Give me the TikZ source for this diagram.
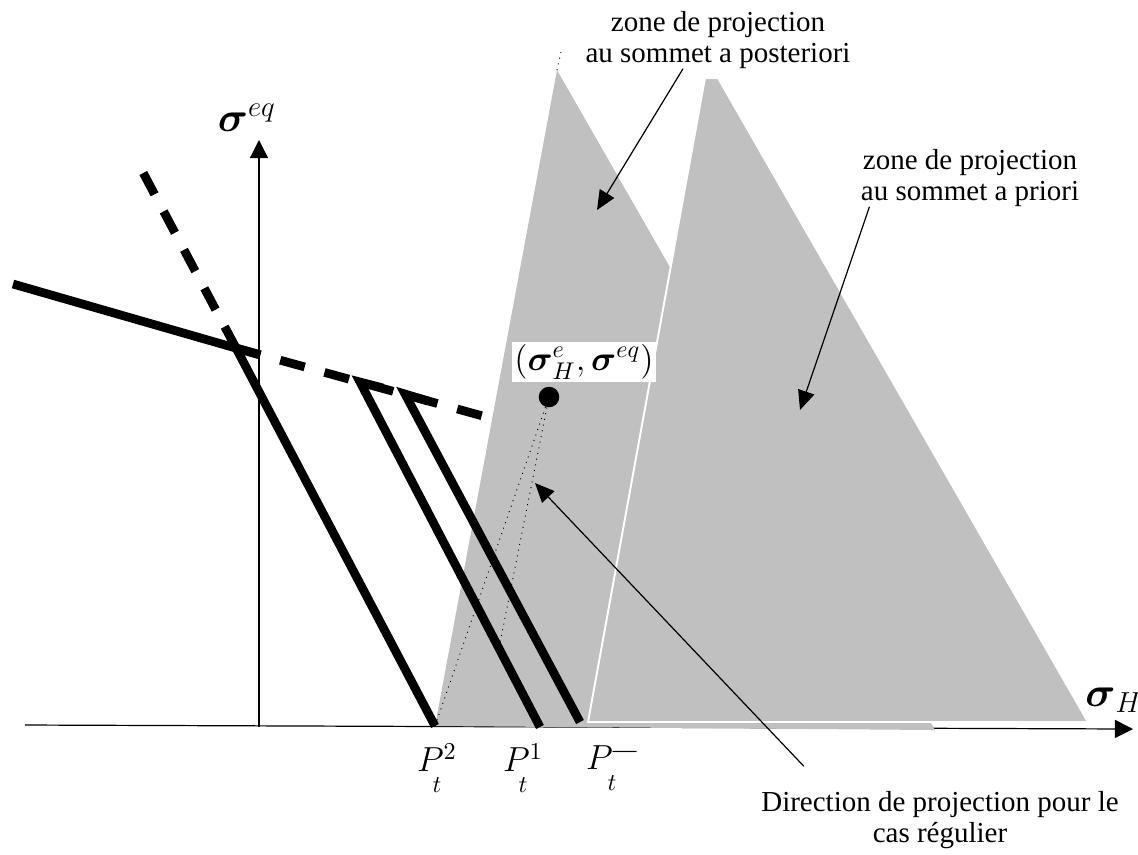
\documentclass[tikz,border=0pt]{standalone}
\usepackage{amsmath}
\usepackage{fontspec}
\setmainfont{Liberation Serif}
\usetikzlibrary{arrows.meta}
\definecolor{zoneGray}{HTML}{C0C0C0}

\begin{document}
\begin{tikzpicture}[x=0.414pt,y=-0.414pt,
    thickline/.style={line width=3.6pt},
    zonetext/.style={align=center,inner sep=0pt,font=\fontsize{12}{12.5}\selectfont},
    pointer/.style={line width=0.5pt,-{Triangle[length=8pt,width=7pt]}},
    axis/.style={line width=0.5pt,-{Triangle[length=7.5pt,width=7.5pt]}},
    plabel/.style={inner sep=0pt,font=\fontsize{14}{15}\selectfont}]
    \useasboundingbox (0,0) rectangle (1138,854);

    % Axes
    \coordinate (xstart) at (25,725);
    \coordinate (xend) at (1133,729);
    \coordinate (ystart) at (259,727);
    \coordinate (yend) at (259,140);
    \draw[axis] (xstart) -- (xend);
    \draw[axis] (ystart) -- (yend);
    \node (sigEq) at (247,118) {\LARGE$\boldsymbol{\sigma}^{eq}$};
    \node[inner sep=1pt] (sigH) at (1114,700) {\LARGE$\boldsymbol{\sigma}_{H}$};

    % Zones
    \fill[zoneGray] (557,70) -- (435,726) -- (935,730) -- cycle;
    \filldraw[fill=zoneGray, draw=white, line width=0.8pt] (705,78) -- (718,78) -- (1088,722) -- (588,722) -- cycle;
    \draw[dotted] (557,70) -- (561,52);

    % Surfaces
    \coordinate (A) at (13,284);
    \coordinate (B) at (260,355);
    \coordinate (K) at (236,348);
    \coordinate (Ktop) at (138,163);
    \coordinate (Kend) at (490,418);
    \coordinate (P2) at (435,726);
    \coordinate (C1) at (360,382);
    \coordinate (C1b) at (383,388);
    \coordinate (P1) at (540,727);
    \coordinate (C2) at (405,394);
    \coordinate (C2b) at (428,401);
    \coordinate (PM) at (580,722);
    \coordinate (F1) at (499,648);
    \draw[thickline] (A) -- (B);
    \draw[thickline] (K) -- (P2);
    \draw[thickline, dash pattern=on 10pt off 8pt] (K) -- (Ktop);
    \draw[thickline, dash pattern=on 10.5pt off 8.5pt] (K) -- (Kend);
    \draw[thickline] (C1b) -- (C1) -- (P1);
    \draw[thickline] (C2b) -- (C2) -- (PM);

    % Point and projections
    \node[circle, fill=black, inner sep=0pt, minimum size=8.5pt] (pt) at (549,397) {};
    \draw[dotted] (pt) -- (P2);
    \draw[dotted] (pt) -- (F1);
    \node[fill=white, inner sep=1pt] (ptLabel) at (584,362) {\Large$\left(\boldsymbol{\sigma}^{e}_{H},\boldsymbol{\sigma}^{eq}\right)$};

    % P labels
    \node[plabel] (Pt2) at (437,770) {$\mathop{P^{2}}\limits_{t}$};
    \node[plabel] (Pt1) at (523,770) {$\mathop{P^{1}}\limits_{t}$};
    \node[plabel] (PtM) at (612,770) {$\mathop{P^{\text{—}}}\limits_{t}$};

    % Zone labels
    \node[zonetext] (post) at (718,40) {zone de projection\\au sommet a posteriori};
    \coordinate (postTip) at (597,210);
    \draw[pointer] (post.south) ++(-35,0) -- (postTip);
    \node[zonetext] (prio) at (970,178) {zone de projection\\au sommet a priori};
    \coordinate (prioTip) at (800,410);
    \draw[pointer] (prio.south west) ++(9,0) -- (prioTip);
    \node[zonetext] (dir) at (940,820) {Direction de projection pour le\\cas régulier};
    \coordinate (dirTip) at (535,483);
    \draw[pointer] (dir.north west) ++(43,-25) -- (dirTip);
\end{tikzpicture}
\end{document}
